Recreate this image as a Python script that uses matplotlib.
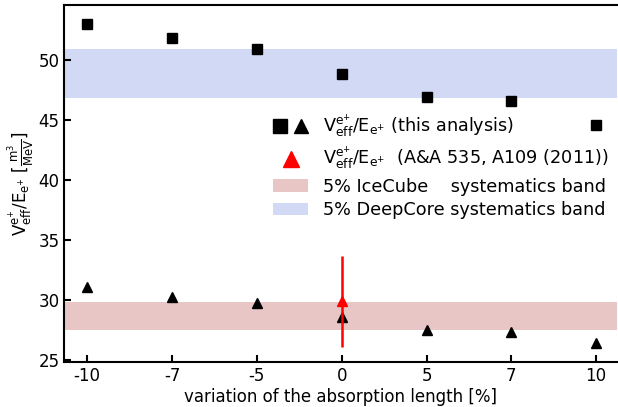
import matplotlib
matplotlib.use("Agg")
import matplotlib.pyplot as plt
from matplotlib.legend_handler import HandlerTuple
from matplotlib.patches import Patch
from matplotlib.lines import Line2D
import numpy as np

# data
variation_labels = ["-10", "-7", "-5", "0", "5", "7", "10"]
deepcore_vals = [53.0, 51.8, 50.9, 48.8, 46.9, 46.6, 44.6]
icecube_vals = [31.1, 30.2, 29.7, 28.6, 27.5, 27.3, 26.4]
ref_val = 29.9
ref_err_lo = 3.8
ref_err_hi = 3.8
icecube_band = (27.45, 29.85)
deepcore_band = (46.85, 50.9)

x = np.arange(len(variation_labels))
ref_x = variation_labels.index("0")

plt.rcParams["font.size"] = 12

fig, ax = plt.subplots(figsize=(6.18, 4.07), dpi=100)

ax.axhspan(*icecube_band, color="#e8c6c6", lw=0)
ax.axhspan(*deepcore_band, color="#d1d9f5", lw=0)

ax.plot(x, deepcore_vals, "s", color="black", ms=6.5, ls="none")
ax.plot(x, icecube_vals, "^", color="black", ms=6.5, ls="none")
ax.errorbar([ref_x], [ref_val], yerr=[[ref_err_lo], [ref_err_hi]],
            fmt="^", color="red", ms=7, elinewidth=1.8, capsize=0)

ax.set_xticks(x)
ax.set_xticklabels(variation_labels)
ax.set_xlim(-0.27, 6.25)
ax.set_ylim(24.8, 54.6)
ax.set_yticks([25, 30, 35, 40, 45, 50])
ax.tick_params(direction="in", length=5, width=1.5, top=False, right=False)
for s in ax.spines.values():
    s.set_linewidth(1.5)
ax.spines["right"].set_visible(False)

ax.set_xlabel("variation of the absorption length [%]", labelpad=2)
ax.set_ylabel(r"V$_{\mathrm{eff}}^{\mathrm{e}^{+}}$/E$_{\mathrm{e}^{+}}$ "
              r"[$\frac{\mathrm{m}^3}{\mathrm{MeV}}$]", labelpad=2)

sq = Line2D([], [], marker="s", color="black", ls="none", ms=10)
tri = Line2D([], [], marker="^", color="black", ls="none", ms=10)
red_tri = Line2D([], [], marker="^", color="red", ls="none", ms=11)
handles = [(sq, tri), red_tri,
           Patch(facecolor="#e8c6c6", edgecolor="none"),
           Patch(facecolor="#d1d9f5", edgecolor="none")]
labels = [r"V$_{\mathrm{eff}}^{\mathrm{e}^{+}}$/E$_{\mathrm{e}^{+}}$ (this analysis)",
          r"V$_{\mathrm{eff}}^{\mathrm{e}^{+}}$/E$_{\mathrm{e}^{+}}$  (A&A 535, A109 (2011))",
          "5% IceCube    systematics band",
          "5% DeepCore systematics band"]
ax.legend(handles, labels, handler_map={tuple: HandlerTuple(ndivide=None, pad=0.4)},
          frameon=False, loc="upper left", bbox_to_anchor=(0.365, 0.72),
          fontsize=12.7, handlelength=2.0, handletextpad=0.8, labelspacing=0.3,
          borderaxespad=0)

fig.subplots_adjust(left=0.104, right=0.999, top=0.988, bottom=0.11)
fig.savefig("out.png", dpi=100)
